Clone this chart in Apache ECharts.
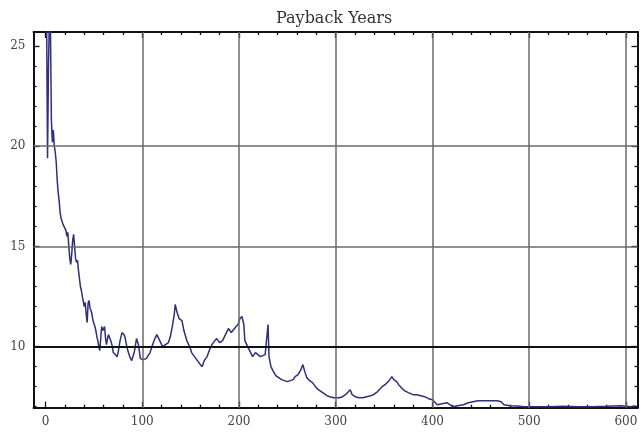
<!DOCTYPE html>
<html>
<head>
<meta charset="utf-8">
<script src="https://cdn.jsdelivr.net/npm/echarts@6/dist/echarts.min.js"></script>
<style>
  html, body { margin: 0; padding: 0; background: #fff; }
  #chart { width: 641px; height: 440px; }
</style>
</head>
<body>
<div id="chart"></div>
<script>
// Payback period (years) against sample index
const sampleIndex = [
  1, 2, 3, 4, 5, 6, 7, 8, 9, 10, 11, 12, 13, 14, 15, 16, 18, 20, 21, 22,
  23, 24, 25, 26, 27, 28, 29, 30, 31, 32, 33, 34, 35, 36, 37, 38, 39, 40, 41, 42,
  43, 44, 45, 46, 47, 48, 49, 51, 52, 53, 54, 55, 56, 57, 58, 59, 61, 62, 63, 64,
  65, 67, 68, 69, 70, 72, 74, 75, 77, 79, 81, 82, 84, 85, 87, 89, 91, 92, 94, 96,
  98, 101, 104, 106, 108, 110, 113, 115, 117, 121, 124, 127, 129, 131, 133, 134, 136, 138, 141, 143,
  146, 149, 151, 154, 157, 160, 162, 164, 167, 170, 172, 175, 177, 180, 183, 186, 189, 192, 194, 197,
  199, 201, 203, 205, 206, 209, 211, 214, 217, 219, 222, 224, 227, 229, 230, 231, 233, 235, 238, 241,
  244, 247, 250, 253, 256, 258, 261, 264, 266, 268, 270, 273, 276, 279, 282, 285, 288, 291, 294, 298,
  301, 304, 307, 310, 313, 315, 317, 320, 324, 328, 332, 336, 339, 342, 345, 348, 351, 354, 356, 358,
  360, 363, 365, 368, 371, 375, 380, 384, 388, 392, 396, 400, 403, 405, 410, 415, 418, 421, 426, 432,
  437, 442, 447, 452, 460, 467, 471, 474, 480, 487, 495, 505, 520, 535, 550, 565, 580, 595, 605, 610
];
const paybackYears = [
  26.8, 19.4, 24.0, 26.5, 26.0, 21.3, 20.2, 20.8, 20.0, 19.7, 19.2, 18.3, 17.7, 17.3, 16.7, 16.4, 16.1, 15.9, 15.8, 15.5,
  15.7, 15.0, 14.4, 14.1, 14.6, 15.3, 15.6, 15.0, 14.4, 14.2, 14.3, 13.8, 13.4, 13.0, 12.8, 12.5, 12.5, 12.0, 12.2, 11.6,
  11.2, 12.2, 12.3, 11.9, 11.8, 11.6, 11.3, 11.0, 10.8, 10.5, 10.3, 10.0, 9.8, 10.4, 11.0, 10.8, 11.0, 10.4, 10.1, 10.4,
  10.6, 10.6, 10.2, 10.0, 9.7, 9.6, 9.5, 9.7, 10.3, 10.7, 10.6, 10.5, 10.0, 9.8, 9.5, 9.3, 9.6, 9.8, 10.4, 10.1,
  9.4, 9.35, 9.4, 9.35, 9.7, 10.0, 10.4, 10.6, 10.4, 10.0, 10.1, 10.2, 10.5, 11.0, 11.6, 12.1, 11.7, 11.4, 11.3, 10.8,
  10.3, 10.0, 9.7, 9.5, 9.3, 9.1, 9.0, 9.3, 9.5, 9.9, 10.1, 10.3, 10.4, 10.2, 10.3, 10.6, 10.9, 10.7, 10.7, 11.0,
  11.1, 11.4, 11.5, 11.1, 10.3, 10.0, 9.8, 9.5, 9.7, 9.7, 9.5, 9.5, 9.6, 9.6, 11.1, 9.5, 9.0, 8.8, 8.55, 8.45,
  8.35, 8.3, 8.25, 8.3, 8.35, 8.5, 8.6, 8.85, 9.1, 8.75, 8.45, 8.3, 8.2, 8.0, 7.85, 7.75, 7.65, 7.55, 7.5, 7.45,
  7.45, 7.45, 7.5, 7.6, 7.75, 7.85, 7.6, 7.5, 7.45, 7.45, 7.5, 7.55, 7.6, 7.7, 7.85, 8.0, 8.1, 8.25, 8.35, 8.5,
  8.35, 8.25, 8.1, 7.95, 7.8, 7.7, 7.6, 7.6, 7.55, 7.5, 7.4, 7.35, 7.2, 7.1, 7.15, 7.2, 7.1, 7.0, 7.05, 7.1,
  7.2, 7.25, 7.3, 7.3, 7.3, 7.3, 7.25, 7.1, 7.05, 7.03, 7.0, 7.0, 7.0, 7.02, 7.0, 7.0, 7.02, 7.05, 7.0, 7.05
];

// Tick positions
const xMajorTicks = [0, 100, 200, 300, 400, 500, 600];
const yMajorTicks = [10, 15, 20, 25];
const xGridLines = [100, 200, 300, 400, 500, 600];
const yGridLines = [15, 20];
const yAxisLineAt = 10;

const xMinorTicks = [];
for (let v = -20; v <= 620; v += 20) if (v % 100 !== 0) xMinorTicks.push(v);
const yMinorTicks = [];
for (let v = 7; v <= 25; v += 1) if (v % 5 !== 0) yMinorTicks.push(v);

const X_MIN = -12.5, X_MAX = 612;
const Y_MIN = 6.95, Y_MAX = 25.7;

const frameColor = '#111';
const labelStyle = { color: '#444', fontFamily: 'DejaVu Serif', fontSize: 12 };

function xAx(position, ticks, len, withLine, withLabels) {
  return {
    type: 'value', position: position, min: X_MIN, max: X_MAX,
    axisLine: { show: withLine, onZero: false, lineStyle: { color: frameColor, width: 2 } },
    axisTick: { show: true, inside: true, length: len, customValues: ticks, lineStyle: { color: frameColor, width: 1.3 } },
    axisLabel: withLabels
      ? Object.assign({ show: true, margin: 8, customValues: ticks }, labelStyle)
      : { show: false },
    splitLine: { show: false }
  };
}
function yAx(position, ticks, len, withLine, withLabels) {
  return {
    type: 'value', position: position, min: Y_MIN, max: Y_MAX,
    axisLine: { show: withLine, onZero: false, lineStyle: { color: frameColor, width: 2 } },
    axisTick: { show: true, inside: true, length: len, customValues: ticks, lineStyle: { color: frameColor, width: 1.3 } },
    axisLabel: withLabels
      ? Object.assign({ show: true, margin: 8, customValues: ticks }, labelStyle)
      : { show: false },
    splitLine: { show: false }
  };
}

const chart = echarts.init(document.getElementById('chart'), null, { renderer: 'canvas' });

const gridLineData = xGridLines.map(v => ({ xAxis: v }))
  .concat(yGridLines.map(v => ({ yAxis: v })));

chart.setOption({
  animation: false,
  backgroundColor: '#fff',
  title: {
    text: 'Payback Years',
    left: 271, top: 6,
    textStyle: { fontFamily: 'DejaVu Serif', fontSize: 16, fontWeight: 'normal', color: '#333' }
  },
  grid: { left: 33.5, right: 3.5, top: 32, bottom: 32.3, containLabel: false },
  xAxis: [
    xAx('bottom', xMajorTicks, 6, true, true),
    xAx('bottom', xMinorTicks, 3, false, false),
    xAx('top', xMajorTicks, 6, true, false),
    xAx('top', xMinorTicks, 3, false, false)
  ],
  yAxis: [
    yAx('left', yMajorTicks, 6, true, true),
    yAx('left', yMinorTicks, 3, false, false),
    yAx('right', yMajorTicks, 6, true, false),
    yAx('right', yMinorTicks, 3, false, false)
  ],
  series: [
    {
      // grid lines
      type: 'line', data: [], z: 1, silent: true,
      markLine: {
        silent: true, symbol: 'none', label: { show: false },
        lineStyle: { color: '#6a6a6a', width: 1.5, type: 'solid' },
        data: gridLineData.concat([{ yAxis: yAxisLineAt, lineStyle: { color: '#111', width: 2 } }])
      }
    },
    {
      name: 'Payback Years',
      type: 'line', z: 3,
      data: sampleIndex.map((x, i) => [x, paybackYears[i]]),
      showSymbol: false, clip: true,
      lineStyle: { color: '#2f2f7a', width: 1.5 }
    }
  ]
});
</script>
</body>
</html>
